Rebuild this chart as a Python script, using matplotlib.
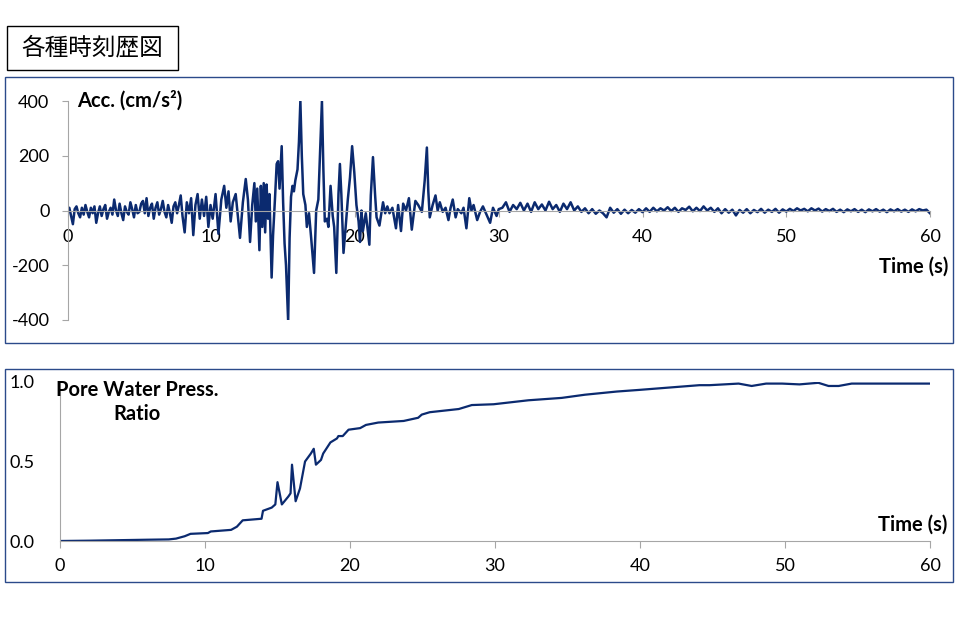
import numpy as np
import matplotlib
matplotlib.use("Agg")
import matplotlib.pyplot as plt
from matplotlib.patches import Rectangle
from matplotlib.ticker import FormatStrFormatter

# acceleration record, 0 - 7.875 s (0.125 s grid)
accA = [0, 10, -20, -50, 5, 15, -10, -25,
        10, -15, 20, -5, -25, 10, -10, 15,
        -45, -10, 15, -20, 5, 20, -30, -5,
        10, -15, 40, 0, -20, 25, -10, -35,
        15, -5, -15, 30, 5, -25, 20, -10,
        -5, 25, 35, -10, 45, -20, 10, 25,
        -30, 10, 30, -15, 5, 35, -5, -25,
        20, -10, -45, 15, 30, -10, 20, 55]

# strong-motion part, 8 - 30 s (peaks / troughs)
tB = [8.0, 8.15, 8.3, 8.45, 8.6, 8.75, 8.9, 9.05, 9.2, 9.35,
      9.5, 9.65, 9.8, 9.95, 10.1, 10.3, 10.5, 10.7, 10.9, 11.05,
      11.2, 11.35, 11.5, 11.7, 11.85, 12.0, 12.2, 12.4, 12.55, 12.7,
      12.85, 13.0, 13.1, 13.2, 13.35, 13.45, 13.55, 13.65, 13.75, 13.85,
      13.95, 14.05, 14.2, 14.3, 14.45, 14.55, 14.65, 14.75, 14.9, 15.0,
      15.1, 15.2, 15.35, 15.45, 15.55, 15.65, 15.75, 15.85, 16.0, 16.1,
      16.2, 16.3, 16.4, 16.55, 16.65, 16.8, 16.95, 17.15, 17.3, 17.45,
      17.55, 17.7, 17.8, 17.9, 18.05, 18.15, 18.3, 18.45, 18.55, 18.7,
      18.85, 18.95, 19.05, 19.2, 19.35, 19.5, 19.65, 19.8, 19.95, 20.1,
      20.25, 20.35, 20.45, 20.55, 20.75, 21.0, 21.1, 21.25, 21.4, 21.5,
      21.7, 21.95, 22.1, 22.25, 22.4, 22.6, 22.85, 23.0, 23.2, 23.35,
      23.55, 23.75, 23.95, 24.2, 24.4, 24.65, 24.85, 25.0, 25.1, 25.2,
      25.4, 25.6, 25.75, 25.9, 26.1, 26.3, 26.5, 26.65, 26.8, 27.0,
      27.15, 27.4, 27.55, 27.75, 27.95, 28.1, 28.25, 28.5, 28.7, 28.9,
      29.15, 29.4, 29.6, 29.85, 30.0]
accB = [-20, -80, 30, -10, 45, -90, 20, 60, -30, 40,
        -20, 50, -60, 20, -30, 60, -85, 40, 90, 10,
        70, -40, 30, 60, -20, -100, 30, 115, 40, -115,
        20, 100, -40, 80, -145, 90, -60, 100, -80, 95,
        -30, 60, -245, -90, 60, 170, 180, 80, 235, 30,
        -120, -200, -405, -100, 50, 90, 70, 110, 150, 250,
        400, 200, 60, 20, -60, -10, -100, -228, 0, 40,
        180, 400, 150, -40, -30, -60, 90, -20, -60, -228,
        60, 170, 60, -155, -60, 40, 120, 235, 140, 20,
        -40, -115, 0, -75, -10, -125, 55, 195, 55, -25,
        -55, 30, -10, 15, -10, 10, -65, 20, -75, 25,
        0, 45, -70, 35, 20, -5, 110, 230, 70, -25,
        20, 55, 0, 30, -5, 10, -35, 10, 40, -25,
        5, -10, 10, -65, 45, 0, 20, -35, -5, 15,
        -15, -45, 10, -20, 5]

# coda, 30.25 - 60 s (0.25 s grid)
accC = [10, 30, -5, 20, 5, 28, 0, 25, -5, 30,
        5, 22, 0, 32, 5, 20, -5, 25, 5, 30,
        0, 15, -5, 8, -10, 5, -12, 0, -10, -25,
        10, -8, 5, -12, 3, -10, 2, -8, 5, -6,
        8, -5, 10, -3, 8, 0, 12, -2, 10, -5,
        8, 2, 14, -3, 10, -2, 15, 0, 10, -5,
        8, -10, 5, -8, 3, -18, 2, -8, 5, -10,
        2, -6, 6, -8, 3, -5, 6, -8, 4, -4,
        6, -2, 8, 0, 6, -3, 8, 0, 7, -4,
        5, -2, 6, -5, 3, -6, 4, -3, 5, -5,
        3, -6, 4, -3, 5, -4, 3, -6, 4, -3,
        5, -4, 3, -5, 4, -3, 5, 0, 3, -10]

# excess pore water pressure ratio
tPw = [0, 2, 4, 6, 7.5, 8.0, 8.6, 9.0, 10.2, 10.4,
       11.8, 12.2, 12.6, 13.9, 14.0, 14.6, 14.85, 15.0, 15.3, 15.75,
       15.9, 16.0, 16.25, 16.55, 16.9, 17.3, 17.5, 17.65, 18.0, 18.15,
       18.65, 19.1, 19.2, 19.5, 19.9, 20.7, 21.1, 21.95, 23.7, 24.7,
       24.95, 25.5, 27.5, 28.4, 29.9, 32.3, 34.6, 36.2, 38.4, 39.9,
       42.0, 44.1, 44.8, 46.8, 47.7, 48.7, 49.8, 51.0, 52.3, 53.0,
       53.7, 54.6, 55.1, 60]
ratio = [0, 0.002, 0.005, 0.008, 0.01, 0.015, 0.03, 0.045, 0.05, 0.06,
         0.07, 0.09, 0.13, 0.14, 0.19, 0.21, 0.23, 0.37, 0.23, 0.28,
         0.30, 0.48, 0.25, 0.33, 0.50, 0.55, 0.58, 0.48, 0.51, 0.55,
         0.62, 0.645, 0.66, 0.66, 0.70, 0.71, 0.73, 0.745, 0.755, 0.775,
         0.795, 0.81, 0.83, 0.855, 0.86, 0.885, 0.90, 0.92, 0.94, 0.95,
         0.965, 0.98, 0.98, 0.99, 0.975, 0.99, 0.99, 0.985, 0.995, 0.975,
         0.975, 0.99, 0.99, 0.99]

accTicks = [-400, -200, 0, 200, 400]
timeTicks = [0, 10, 20, 30, 40, 50, 60]
ratioTicks = [0.0, 0.5, 1.0]

NAVY = "#0B2A6F"
GREY = "#A6A6A6"
FRAME = "#2B4A8A"

if __name__ == "__main__":
    plt.rcParams['font.family'] = ['Lato', 'DejaVu Sans']
    plt.rcParams['axes.unicode_minus'] = False

    accT = np.concatenate([np.linspace(0, 7.875, 64), tB, np.linspace(30.25, 60, 120)])
    acc = np.concatenate([accA, accB, accC])

    W, H = 960, 620
    fig = plt.figure(figsize=(9.6, 6.2), dpi=100)

    # title box
    fig.patches.append(Rectangle((7 / W, 1 - 70 / H), 171 / W, 44 / H, transform=fig.transFigure,
                                 fill=False, edgecolor="black", lw=1))
    fig.text(92 / W, 1 - 48 / H, "各種時刻歴図", ha="center", va="center", fontsize=17,
             family=["Noto Sans CJK JP", "DejaVu Sans"])

    # panel frames
    fig.patches.append(Rectangle((5 / W, 1 - 343 / H), 948 / W, 266 / H, transform=fig.transFigure,
                                 fill=False, edgecolor=FRAME, lw=1))
    fig.patches.append(Rectangle((5 / W, 1 - 582 / H), 948 / W, 213 / H, transform=fig.transFigure,
                                 fill=False, edgecolor=FRAME, lw=1))

    # acceleration
    ax1 = fig.add_axes([67.5 / W, 1 - 320 / H, 862.5 / W, 219 / H])
    ax1.set_facecolor("none")
    ax1.plot(accT, acc, color=NAVY, lw=1.8)
    ax1.set_xlim(0, 60)
    ax1.set_ylim(-400, 400)
    ax1.set_xticks(timeTicks)
    ax1.set_yticks(accTicks)
    ax1.spines['top'].set_visible(False)
    ax1.spines['right'].set_visible(False)
    ax1.spines['bottom'].set_position(('data', 0))
    for s in ['left', 'bottom']:
        ax1.spines[s].set_color(GREY)
    ax1.tick_params(axis='both', colors=GREY, labelcolor='black', labelsize=13, length=4)
    ax1.tick_params(axis='x', pad=9)
    ax1.tick_params(axis='y', pad=9)
    ax1.text(0.7, 400, "Acc. (cm/s²)", fontsize=14.5, fontweight='bold', va='center', ha='left')
    ax1.text(61.3, -207, "Time (s)", fontsize=14.5, fontweight='bold', va='center', ha='right')

    # pore water pressure ratio
    ax2 = fig.add_axes([60 / W, 1 - 541 / H, 870 / W, 159 / H])
    ax2.set_facecolor("none")
    ax2.plot(tPw, ratio, color=NAVY, lw=1.6)
    ax2.set_xlim(0, 60)
    ax2.set_ylim(0, 1)
    ax2.set_xticks(timeTicks)
    ax2.set_yticks(ratioTicks)
    ax2.yaxis.set_major_formatter(FormatStrFormatter('%.1f'))
    ax2.spines['top'].set_visible(False)
    ax2.spines['right'].set_visible(False)
    for s in ['left', 'bottom']:
        ax2.spines[s].set_color(GREY)
    ax2.tick_params(axis='both', colors=GREY, labelcolor='black', labelsize=13, length=5)
    ax2.tick_params(axis='x', pad=7)
    ax2.tick_params(axis='y', length=0, pad=18)
    ax2.text(5.3, 0.874, "Pore Water Press.\nRatio", fontsize=14.5, fontweight='bold',
             ha='center', va='center', multialignment='center', linespacing=1.2)
    ax2.text(61.2, 0.10, "Time (s)", fontsize=14.5, fontweight='bold', va='center', ha='right')

    fig.savefig("out.png", dpi=100)
    plt.close(fig)
